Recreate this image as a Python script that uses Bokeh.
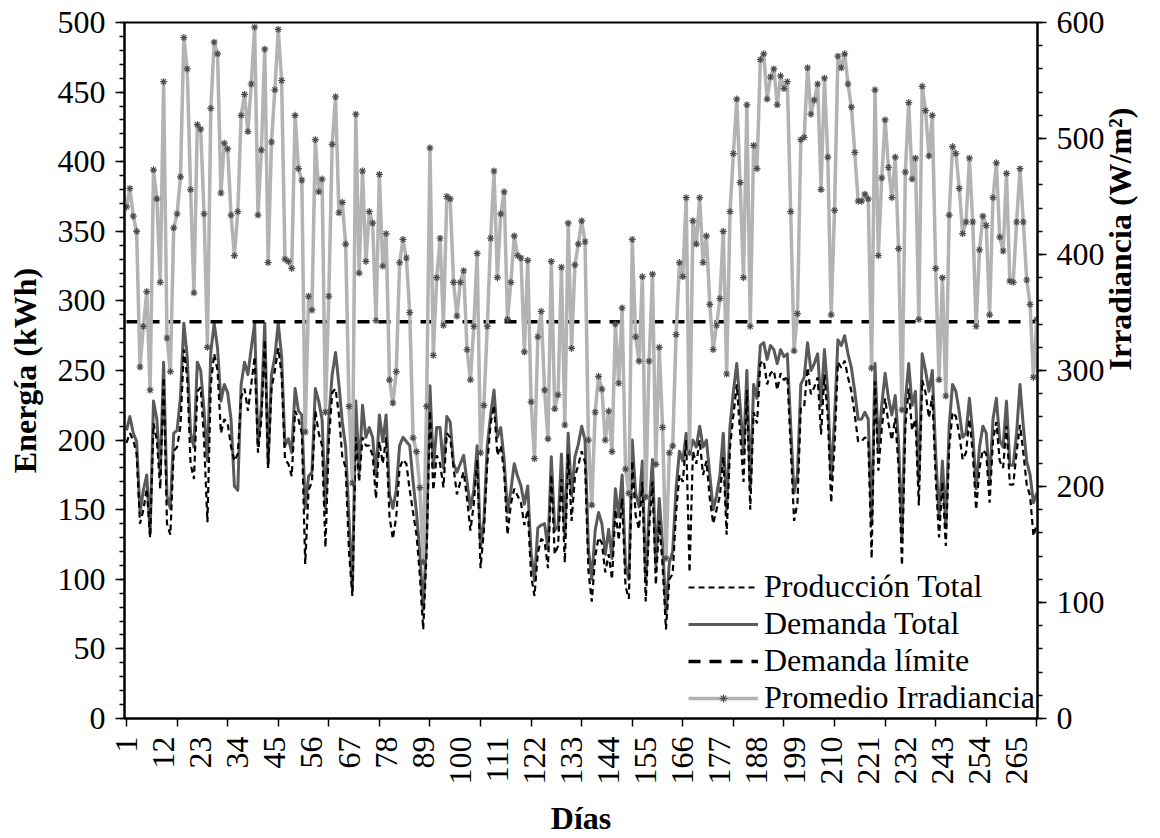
import math
from bokeh.plotting import figure
from bokeh.models import (Range1d, LinearAxis, FixedTicker, SingleIntervalTicker,
                          Legend, LegendItem)
from bokeh.embed import file_html
from bokeh.resources import INLINE

# ---------------------------------------------------------------- data
dias = list(range(1, 272))

produccion_total = [
    198, 205, 200, 190, 140, 150, 165, 130, 212, 200,
    165, 245, 140, 132, 192, 195, 210, 265, 245, 183,
    172, 235, 238, 200, 141, 240, 262, 250, 205, 215,
    212, 195, 185, 190, 231, 237, 221, 240, 260, 191,
    215, 272, 180, 237, 250, 266, 247, 186, 183, 174,
    221, 215, 205, 111, 164, 170, 221, 205, 196, 123,
    199, 234, 237, 218, 188, 180, 119, 88, 202, 170,
    202, 196, 196, 189, 158, 199, 183, 202, 145, 129,
    145, 180, 186, 183, 164, 148, 132, 103, 64, 119,
    221, 164, 189, 183, 166, 205, 202, 180, 161, 170,
    177, 158, 135, 154, 186, 108, 135, 183, 212, 225,
    189, 196, 177, 132, 154, 165, 160, 155, 139, 150,
    103, 88, 119, 129,
    127, 108, 175, 118, 124, 172,
    112, 190, 142, 174, 182, 192, 184, 106, 84, 116,
    130, 126, 105, 118, 100, 150, 128, 158, 95, 86,
    185, 146, 136, 170, 84, 136, 170, 96, 142, 110,
    64, 100, 104, 148, 175, 170, 200, 105, 192, 183,
    200, 175, 185, 158, 140, 150, 160, 188, 132, 195,
    218, 240, 205, 170, 236, 150, 220, 212, 255, 257,
    240, 248, 250, 236, 248, 243, 246, 195, 142, 155,
    223, 224, 252, 233, 238, 245, 204, 247, 216, 155,
    196, 256, 252, 257, 245, 235, 218, 199, 199, 202,
    200, 115, 242, 178, 208, 230, 212, 200, 216, 180,
    110, 210, 237, 207, 215, 153, 243, 234, 216, 232,
    173, 130, 170, 124, 194, 220, 217, 204, 186, 191,
    215, 191, 150, 180, 193, 190, 155, 200, 213, 185,
    180, 210, 168, 168, 191, 211, 191, 168, 160, 131,
    140,
]

demanda_total = [
    207, 217, 205, 199, 148, 164, 175, 133, 228, 215,
    175, 256, 160, 151, 205, 207, 231, 284, 260, 205,
    195, 256, 250, 221, 185, 263, 284, 266, 228, 240,
    234, 215, 167, 164, 240, 256, 247, 266, 284, 196,
    224, 284, 183, 247, 260, 284, 260, 196, 201, 191,
    237, 221, 218, 151, 174, 177, 237, 228, 215, 151,
    215, 247, 263, 240, 213, 195, 142, 92, 228, 177,
    225, 202, 209, 202, 174, 218, 199, 218, 161, 151,
    164, 196, 202, 199, 196, 170, 148, 119, 78, 129,
    239, 180, 209, 209, 180, 217, 213, 183, 177, 183,
    189, 170, 151, 164, 196, 123, 142, 196, 218, 236,
    202, 209, 186, 148, 164, 183, 174, 167, 154, 167,
    119, 99, 137, 139,
    140, 122, 188, 135, 138, 190,
    130, 205, 160, 188, 197, 210, 200, 122, 100, 135,
    148, 140, 118, 136, 115, 165, 145, 175, 110, 100,
    200, 162, 152, 185, 98, 150, 186, 110, 158, 125,
    76, 112, 120, 165, 192, 185, 205, 190, 200, 195,
    210, 195, 200, 175, 150, 160, 175, 205, 150, 210,
    235, 255, 225, 190, 250, 165, 240, 230, 268, 270,
    258, 268, 265, 255, 265, 260, 262, 210, 162, 175,
    240, 245, 270, 250, 255, 262, 225, 265, 235, 172,
    215, 272, 268, 275, 262, 252, 235, 215, 215, 220,
    215, 140, 255, 195, 225, 248, 230, 218, 232, 198,
    130, 228, 255, 225, 235, 170, 262, 250, 235, 250,
    190, 145, 185, 138, 210, 240, 235, 220, 202, 205,
    230, 205, 165, 195, 210, 205, 170, 215, 230, 200,
    195, 228, 182, 182, 205, 240, 210, 185, 175, 155,
    162,
]

demanda_limite = 285

promedio_irradiancia = [
    441, 457, 433, 420, 303, 338, 368, 283, 473, 448,
    376, 549, 328, 299, 423, 435, 467, 587, 560, 456,
    367, 512, 508, 435, 320, 526, 583, 573, 453, 496,
    491, 434, 399, 437, 520, 538, 506, 547, 596, 434,
    490, 577, 393, 497, 542, 594, 550, 396, 394, 388,
    520, 474, 464, 247, 364, 352, 499, 454, 465, 264,
    364, 495, 536, 436, 445, 409, 269, 203, 521, 384,
    472, 394, 437, 427, 343, 469, 390, 418, 292, 272,
    299, 393, 413, 397, 350, 242, 230, 199, 135, 269,
    492, 313, 380, 414, 339, 450, 448, 376, 347, 376,
    386, 318, 292, 338, 401, 229, 270, 338, 414, 472,
    380, 435, 454, 344, 376, 416, 399, 397, 316, 395,
    273, 224, 329, 351, 283, 241, 394, 267, 279, 389,
    253, 427, 319, 391, 409, 429, 411, 240, 184, 264,
    295, 284, 240, 265, 230, 340, 289, 354, 215, 194,
    413, 329, 308, 381, 191, 308, 383, 219, 320, 251,
    138, 229, 235, 331, 393, 381, 449, 229, 429, 409,
    449, 393, 416, 357, 318, 339, 362, 420, 297, 437,
    487, 534, 462, 380, 529, 338, 494, 474, 568, 573,
    534, 553, 560, 529, 554, 543, 549, 437, 317, 349,
    499, 501, 561, 521, 533, 547, 456, 552, 484, 348,
    438, 571, 561, 573, 547, 527, 488, 446, 446, 452,
    448, 302, 542, 399, 466, 516, 475, 449, 484, 405,
    266, 471, 531, 465, 483, 344, 545, 524, 485, 520,
    388, 292, 380, 278, 434, 493, 487, 457, 418, 428,
    483, 428, 338, 404, 433, 425, 348, 449, 479, 415,
    403, 470, 377, 376, 428, 474, 428, 378, 357, 294,
    344,
]

etiquetas_dias = list(range(1, 266, 11))      # 1, 12, 23, ... 265
marcas_dias = list(range(1, 272, 15))         # tick marks every 15 days

# ---------------------------------------------------------------- figure
FONT = "Liberation Serif"
FS = "32px"

p = figure(width=1160, height=838, output_backend="svg", toolbar_location=None,
           x_range=Range1d(0.4, 271.2), y_range=Range1d(0, 500),
           min_border_left=124, min_border_right=123,
           min_border_top=22, min_border_bottom=116)
p.extra_y_ranges = {"irr": Range1d(0, 600)}
p.xgrid.visible = False
p.ygrid.visible = False
p.outline_line_color = "black"
p.outline_line_width = 2
p.background_fill_color = "white"
p.border_fill_color = "white"


def style_axis(ax):
    ax.axis_line_color = "black"
    ax.axis_line_width = 2
    ax.major_tick_line_color = "black"
    ax.major_tick_line_width = 1.5
    ax.minor_tick_line_color = "black"
    ax.minor_tick_line_width = 1.5
    ax.major_tick_in = 0
    ax.minor_tick_in = 0
    ax.major_tick_out = 9
    ax.minor_tick_out = 5
    ax.major_label_text_font = FONT
    ax.major_label_text_font_size = FS
    ax.major_label_text_color = "black"
    ax.axis_label_text_font = FONT
    ax.axis_label_text_font_size = FS
    ax.axis_label_text_font_style = "bold"
    ax.axis_label_text_color = "black"


# left axis: energy
yax = p.yaxis[0]
yax.ticker = SingleIntervalTicker(interval=50, num_minor_ticks=5)
style_axis(yax)
yax.axis_label = "Energía (kWh)"
yax.major_label_standoff = 10
yax.axis_label_standoff = 12

# bottom axis: days
xax = p.xaxis[0]
xax.ticker = FixedTicker(ticks=etiquetas_dias, minor_ticks=marcas_dias)
style_axis(xax)
xax.major_tick_out = 0
xax.minor_tick_out = 8
xax.major_label_orientation = math.pi / 2
xax.major_label_standoff = 10
xax.axis_label = "Días"
xax.axis_label_standoff = 12

# right axis: irradiance, title reading bottom to top
rax = LinearAxis(y_range_name="irr",
                 ticker=SingleIntervalTicker(interval=100, num_minor_ticks=5))
style_axis(rax)
rax.axis_label = "Irradiancia (W/m²)"
rax.axis_label_orientation = math.pi / 2
rax.major_label_standoff = 10
rax.axis_label_standoff = 12
p.add_layout(rax, "right")

# ---------------------------------------------------------------- series
r_dem = p.line(dias, demanda_total, line_color="#5a5a5a", line_width=3,
               line_join="round")
r_prod = p.line(dias, produccion_total, line_color="black", line_width=2.2,
                line_dash="6 4")
r_lim = p.line(dias, [demanda_limite] * len(dias), line_color="black",
               line_width=3.5, line_dash="12 9")
r_irr = p.line(dias, promedio_irradiancia, y_range_name="irr",
               line_color="#b3b3b3", line_width=3.5, line_join="round")
r_irr_m = p.scatter(dias, promedio_irradiancia, y_range_name="irr",
                    marker="asterisk", size=7, line_color="#4d4d4d",
                    line_width=1.2)

legend = Legend(items=[
    LegendItem(label="Producción Total", renderers=[r_prod]),
    LegendItem(label="Demanda Total", renderers=[r_dem]),
    LegendItem(label="Demanda límite", renderers=[r_lim]),
    LegendItem(label="Promedio Irradiancia", renderers=[r_irr, r_irr_m]),
], location="bottom_right")
legend.label_text_font = FONT
legend.label_text_font_size = FS
legend.label_text_color = "black"
legend.glyph_width = 70
legend.glyph_height = 20
legend.label_height = 35
legend.label_standoff = 6
legend.spacing = -3
legend.padding = 0
legend.margin = 2
legend.border_line_alpha = 0
legend.background_fill_alpha = 0
p.add_layout(legend)

open("out.html", "w").write(file_html(p, INLINE))
